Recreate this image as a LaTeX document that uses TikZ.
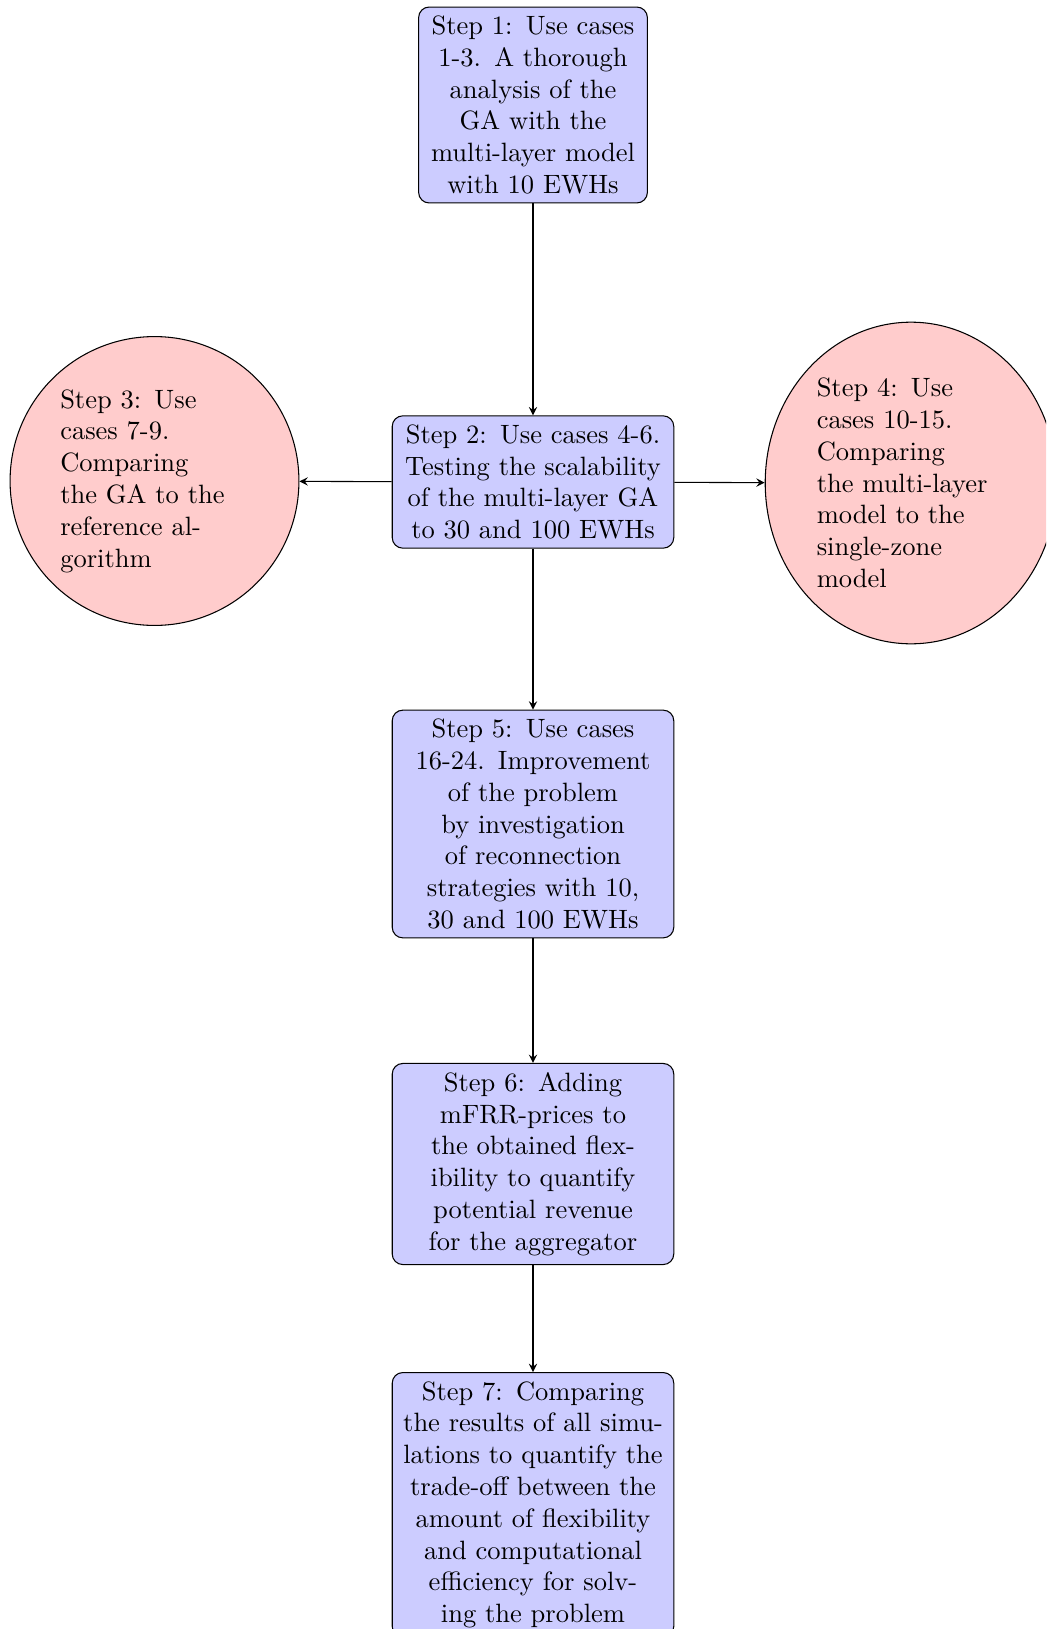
\documentclass[tikz,border=0pt]{standalone}
\usetikzlibrary{shapes.geometric,arrows}
\begin{document}
\begin{tikzpicture}[x=0.37736pt,y=-0.37736pt,
  stepbox/.style={draw, rectangle, rounded corners, fill=blue!20, align=center, text width=3.5cm},
  sidestep/.style={draw, fill=red!20, align=left, text width=2.5cm},
  conn/.style={-stealth}]
\path[use as bounding box, clip] (0,0) rectangle (1046,1629);
\node[stepbox, text width=2.8cm] (s1) at (533,105) {Step 1: Use cases 1-3. A thorough analysis of the GA with the multi-layer model with 10 EWHs};
\node[stepbox] (s2) at (533,482) {Step 2: Use cases 4-6. Testing the scalability of the multi-layer GA to 30 and 100 EWHs};
\node[sidestep, circle, minimum size=109pt] (s3) at (154.5,481) {Step 3: Use\\ cases 7-9.\\ Comparing\\ the GA to the\\ reference al-\\gorithm};
\node[sidestep, ellipse] (s4) at (911,483) {Step 4: Use cases 10-15. Comparing the multi-layer model to the single-zone model};
\node[stepbox] (s5) at (533,824) {Step 5: Use cases 16-24. Improvement of the problem by investigation of reconnection strategies with 10, 30 and 100 EWHs};
\node[stepbox] (s6) at (533,1164) {Step 6: Adding mFRR-prices to the obtained flexibility to quantify potential revenue for the aggregator};
\node[stepbox, anchor=north] (s7) at (533,1372) {Step 7: Comparing\\ the results of all simu-\\lations to quantify the\\ trade-off between the\\ amount of flexibility\\ and computational\\ efficiency for solv-\\ing the problem};
\draw[conn] (s1) -- (s2);
\draw[conn] (s2) -- (s3);
\draw[conn] (s2) -- (s4);
\draw[conn] (s2) -- (s5);
\draw[conn] (s5) -- (s6);
\draw[conn] (s6) -- (s7);
\end{tikzpicture}
\end{document}
